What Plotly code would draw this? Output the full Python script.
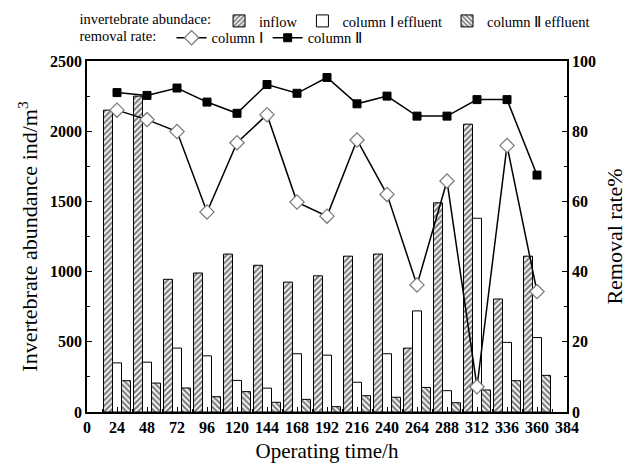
import plotly.graph_objects as go

time_h = [24, 48, 72, 96, 120, 144, 168, 192, 216, 240, 264, 288, 312, 336, 360]
inflow = [2150, 2250, 945, 990, 1125, 1045, 925, 970, 1110, 1125, 455, 1490, 2050, 805, 1110]
col1_effluent = [350, 355, 455, 400, 225, 170, 415, 405, 212, 415, 720, 152, 1380, 496, 530]
col2_effluent = [223, 206, 171, 109, 145, 69, 90, 38, 116, 105, 175, 66, 157, 223, 261]
col1_rate = [86.0, 83.3, 79.9, 57.0, 76.7, 84.7, 59.8, 55.8, 77.5, 62.0, 36.2, 65.8, 7.2, 75.9, 34.3]
col2_rate = [91.0, 90.2, 92.3, 88.3, 85.1, 93.3, 90.8, 95.3, 87.8, 90.0, 84.3, 84.3, 89.0, 89.0, 67.5]
x_ticks = list(range(0, 385, 24))

FONT = "Liberation Serif"

fig = go.Figure()

fig.add_trace(go.Bar(
    x=time_h, y=inflow, name="inflow", legend="legend",
    marker=dict(color="white", line=dict(color="black", width=1),
                pattern=dict(shape="/", fgcolor="black", bgcolor="white", size=4, solidity=0.55)),
))
fig.add_trace(go.Bar(
    x=time_h, y=col1_effluent, name="column Ⅰ effluent", legend="legend",
    marker=dict(color="white", line=dict(color="black", width=1)),
))
fig.add_trace(go.Bar(
    x=time_h, y=col2_effluent, name="column Ⅱ effluent", legend="legend",
    marker=dict(color="white", line=dict(color="black", width=1),
                pattern=dict(shape="\\", fgcolor="black", bgcolor="white", size=4, solidity=0.55)),
))
fig.add_trace(go.Scatter(
    x=time_h, y=col1_rate, name="column Ⅰ", yaxis="y2", legend="legend2",
    mode="lines+markers",
    line=dict(color="black", width=1.5),
    marker=dict(symbol="diamond", size=11, color="white", line=dict(color="#777", width=1.2)),
))
fig.add_trace(go.Scatter(
    x=time_h, y=col2_rate, name="column Ⅱ", yaxis="y2", legend="legend2",
    mode="lines+markers",
    line=dict(color="black", width=1.5),
    marker=dict(symbol="square", size=8, color="black", line=dict(color="black", width=1)),
))

tickfont = dict(family=FONT, size=16, color="black", weight="bold")
legfont = dict(family=FONT, size=14.5, color="black")

fig.update_layout(
    width=624, height=462,
    margin=dict(l=79, r=65, t=53, b=58, autoexpand=False),
    paper_bgcolor="white", plot_bgcolor="white",
    font=dict(family=FONT, color="black"),
    barmode="group", bargap=0.1, bargroupgap=0,
    xaxis=dict(
        range=[0, 384], tickvals=x_ticks, ticktext=[str(v) for v in x_ticks],
        ticks="inside", ticklen=5, tickwidth=1.2, tickcolor="black",
        minor=dict(dtick=12, tick0=0, ticks="inside", ticklen=3, tickcolor="black"),
        showline=True, linecolor="black", linewidth=1.8, mirror=True,
        showgrid=False, zeroline=False, tickfont=tickfont,
        title=dict(text="Operating time/h", font=dict(family=FONT, size=21, color="black"), standoff=8),
    ),
    yaxis=dict(
        range=[0, 2500], dtick=500, tick0=0,
        ticks="inside", ticklen=5, tickwidth=1.2, tickcolor="black",
        minor=dict(dtick=250, ticks="inside", ticklen=3, tickcolor="black"),
        showline=True, linecolor="black", linewidth=1.8,
        showgrid=False, zeroline=False, tickfont=tickfont,
        title=dict(text="Invertebrate abundance ind/m<sup>3</sup>", font=dict(family=FONT, size=22, color="black"), standoff=6),
    ),
    yaxis2=dict(
        overlaying="y", side="right", range=[0, 100], dtick=20, tick0=0,
        ticks="inside", ticklen=5, tickwidth=1.2, tickcolor="black",
        minor=dict(dtick=10, ticks="inside", ticklen=3, tickcolor="black"),
        showline=True, linecolor="black", linewidth=1.8,
        showgrid=False, zeroline=False, tickfont=tickfont,
        title=dict(text="Removal rate%", font=dict(family=FONT, size=22, color="black"), standoff=12),
    ),
    legend=dict(
        orientation="h", x=-0.02, xanchor="left", y=1.114, yanchor="middle",
        bgcolor="rgba(0,0,0,0)", font=legfont,
        title=dict(text="invertebrate abundace:", side="left", font=legfont),
        itemwidth=30, traceorder="normal",
    ),
    legend2=dict(
        orientation="h", x=-0.02, xanchor="left", y=1.066, yanchor="middle",
        bgcolor="rgba(0,0,0,0)", font=legfont,
        title=dict(text="removal rate:\u00a0\u00a0", side="left", font=legfont),
        itemwidth=30, traceorder="normal",
    ),
)

fig.write_html("out.html")
